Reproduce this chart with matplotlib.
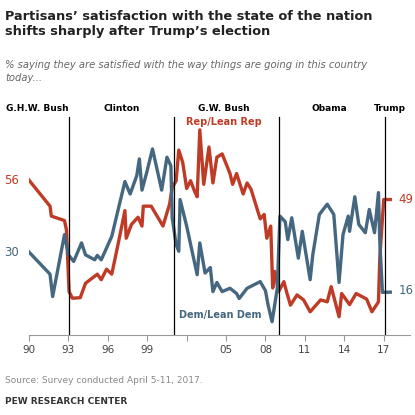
import matplotlib
matplotlib.use("Agg")
import matplotlib.pyplot as plt

rep_years = [1990,1991.6,1991.7,1992.7,1992.85,1993.05,1993.3,1993.9,1994.3,1995.2,1995.5,1995.9,1996.3,1996.8,1997.3,1997.4,1997.8,1998.3,1998.6,1998.7,1999.3,2000.2,2000.5,2000.7,2000.9,2001.2,2001.4,2001.7,2002.0,2002.3,2002.6,2002.8,2003.0,2003.3,2003.7,2004.0,2004.3,2004.7,2005.3,2005.5,2005.8,2006.3,2006.6,2006.9,2007.6,2007.9,2008.1,2008.4,2008.55,2008.7,2009.0,2009.4,2009.6,2009.9,2010.4,2010.9,2011.4,2012.2,2012.7,2013.0,2013.6,2013.8,2014.4,2014.9,2015.7,2016.1,2016.6,2016.7,2017.0,2017.5]
rep_vals = [56,46.6,43,41.4,38,15.7,13.3,13.5,18.7,22,20,23.8,22,33.3,45,35,40,42.6,39.4,46.6,46.6,39.4,44.2,47.3,53.3,55.8,66.9,62.4,53,55.8,52,50,74.2,54.5,68,55,64.3,65.5,58.4,54.5,58.4,51,55,52.7,42,43.6,35,39.4,17,23,15.7,19.3,15.7,10.8,14.5,12.7,8.4,12.7,12,17.5,6.6,15,11,15,13,8.4,12,27.8,49,49]

dem_years = [1990,1991.6,1991.8,1992.7,1993.0,1993.4,1994.0,1994.3,1995.0,1995.2,1995.5,1996.3,1997.3,1997.7,1998.2,1998.4,1998.6,1998.96,1999.4,2000.1,2000.5,2000.8,2000.9,2001.2,2001.4,2001.5,2002.0,2002.8,2003.0,2003.4,2003.8,2004.0,2004.3,2004.7,2005.3,2005.8,2006.0,2006.6,2007.6,2008.0,2008.2,2008.5,2008.9,2009.1,2009.5,2009.7,2010.0,2010.5,2010.8,2011.4,2011.6,2012.1,2012.7,2013.2,2013.6,2013.9,2014.3,2014.4,2014.8,2015.1,2015.6,2015.9,2016.3,2016.6,2016.7,2016.9,2017.5]
dem_vals = [30,22,13.9,36.3,29,26.6,33.3,29,27.2,28.8,27.2,35.7,55.5,51,57.6,63.7,52.4,58.8,67.3,52.4,64.3,61.2,42.4,32.7,30.3,49,39.4,21.8,33.3,22.4,24.4,15.7,19,15.7,16.9,15,13.2,16.9,19.3,16,10.8,4.8,16.9,43,41,34.5,42.4,27.8,37.5,20,29,43.6,47.3,43.6,19,36.3,43,37.5,50,40,37,45.4,37,51.5,34,15.4,15.5]

tick_years = [1990,1993,1996,1999,2002,2005,2008,2011,2014,2017]
tick_labels = ["90","93","96","99","","05","08","11","14","17"]
term_starts = [1993.05,2001.0,2009.06,2017.06]
admins = ["G.H.W. Bush","Clinton","G.W. Bush","Obama","Trump"]
admin_x = [1990.6,1997.05,2004.85,2012.9,2017.45]

RED = "#bf3b26"
BLUE = "#45677f"

fig = plt.figure(figsize=(4.15,4.15), dpi=100)
ax = fig.add_axes([29/415, 1-335/415, 381/415, 235/415])
ax.plot(rep_years, rep_vals, color=RED, lw=2.4, solid_joinstyle="round")
ax.plot(dem_years, dem_vals, color=BLUE, lw=2.4, solid_joinstyle="round")
for x in term_starts:
    ax.plot([x,x],[0,79], color="black", lw=0.9)
for name,x in zip(admins, admin_x):
    ax.text(x, 82, name, ha="center", va="center", fontsize=6.5, fontweight="bold")
ax.text(2004.85, 77, "Rep/Lean Rep", color=RED, ha="center", va="center", fontsize=7, fontweight="bold")
ax.text(2004.55, 7.4, "Dem/Lean Dem", color=BLUE, ha="center", va="center", fontsize=7, fontweight="bold")
ax.text(-0.065, (56)/85, "56", color=RED, transform=ax.transAxes, fontsize=8.5, va="center")
ax.text(-0.065, (30)/85, "30", color=BLUE, transform=ax.transAxes, fontsize=8.5, va="center")
ax.text(2018.1, 49, "49", color=RED, fontsize=8.5, va="center")
ax.text(2018.1, 16, "16", color=BLUE, fontsize=8.5, va="center")

ax.set_xlim(1990, 2019.0)
ax.set_ylim(0, 85)
for s in ["top","right","left"]:
    ax.spines[s].set_visible(False)
ax.spines["bottom"].set_color("#999999")
ax.set_yticks([])
ax.set_xticks(tick_years)
ax.set_xticklabels(tick_labels, fontsize=7.5, color="#444444")
ax.tick_params(axis="x", length=4, color="#999999", pad=3)

fig.text(0.012, 0.975, "Partisans’ satisfaction with the state of the nation\nshifts sharply after Trump’s election",
         fontsize=9.3, fontweight="bold", va="top", ha="left", color="#222222", linespacing=1.2)
fig.text(0.012, 0.855, "% saying they are satisfied with the way things are going in this country\ntoday...",
         fontsize=7.2, style="italic", va="top", ha="left", color="#666666", linespacing=1.3)
fig.text(0.012, 0.082, "Source: Survey conducted April 5-11, 2017.", fontsize=6.5, color="#888888", va="center")
fig.text(0.012, 0.033, "PEW RESEARCH CENTER", fontsize=6.5, fontweight="bold", color="#333333", va="center")
fig.savefig("out.png", dpi=100)
